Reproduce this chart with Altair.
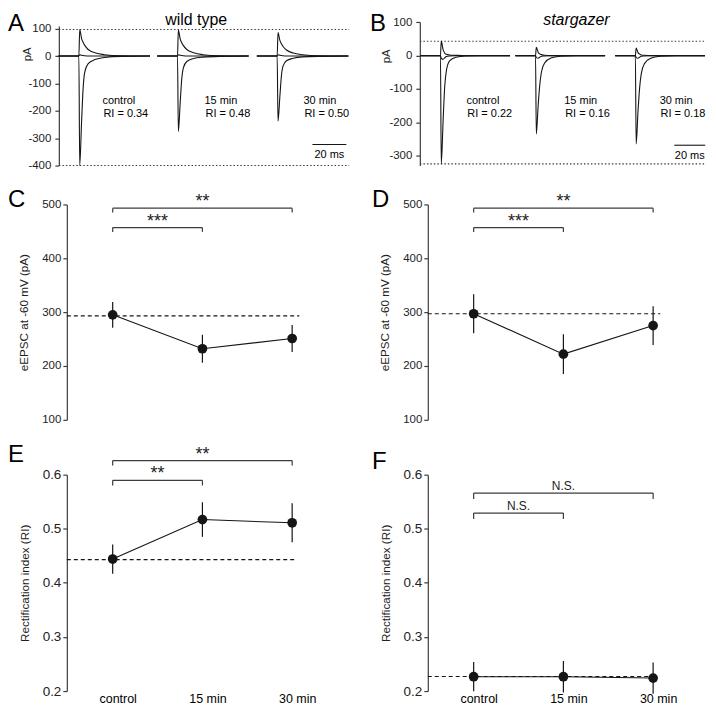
import altair as alt
import pandas as pd

FONT = "Liberation Sans"
INK = "#151515"
GREY = "#3c3c3c"

# ---------------- shared categories ----------------
conditions = ["control", "15 min", "30 min"]
cond_x = [0, 1, 2]
cond_domain = [-0.511, 2.267]

# ---------------- panel A : wild type traces (ms, pA) ----------------
a_onsets = [7.1, 65.3, 124.1]
a_t_rel = [-12, 0, 0.5, 1.6, 2.5, 3.5, 5.5, 9.5, 15, 25, 42]
a_neg = [
    [0, 0, -400, -240, -119, -58, -28, -13, -5, -1, 0],
    [0, 0, -275, -168, -84, -42, -20, -9, -4, -1, 0],
    [0, 0, -238, -147, -73, -36, -17, -8, -3, -1, 0],
]
a_pos = [
    [0, 0, 97, 64, 50, 39, 24, 12, 5, 1, 0],
    [0, 0, 95, 62, 49, 38, 24, 12, 5, 1, 0],
    [0, 0, 86, 57, 45, 35, 22, 11, 5, 1, 0],
]
a_zero = [
    [0, 0, 5, 3, 2, 1, 0, 0, 0, 0, 0],
    [0, 0, 5, 3, 2, 1, 0, 0, 0, 0, 0],
    [0, 0, 5, 3, 2, 1, 0, 0, 0, 0, 0],
]
a_ticks = [-400, -300, -200, -100, 0, 100]
a_dotted = [97, -400]
a_dotted_span = [-4.7, 166.5]
a_bar = [144.9, 164.9]
a_bar_level = -323
a_bar_label_level = -363
a_ann_t = [21.0, 81.2, 139.6]
a_ann_levels = [-163, -212]
a_ri = ["0.34", "0.48", "0.50"]

# ---------------- panel B : stargazer traces ----------------
b_onsets = [8.2, 69.7, 134.3]
b_t_rel = [-13, 0, 0.5, 1.7, 2.7, 3.8, 5.9, 10, 16, 26, 45]
b_neg = [
    [0, 0, -325, -196, -96, -46, -16, -5, -1, 0, 0],
    [0, 0, -235, -150, -90, -50, -22, -7, -2, 0, 0],
    [0, 0, -265, -168, -100, -55, -24, -8, -2, 0, 0],
]
b_pos = [
    [0, 0, 44, 18, 8, 4, 2, 1, 0, 0, 0],
    [0, 0, 25, 10, 5, 3, 1, 0, 0, 0, 0],
    [0, 0, 23, 9, 5, 2, 1, 0, 0, 0, 0],
]
b_zero = [
    [0, 0, -8, -11, -7, -3, -1, 0, 0, 0, 0],
    [0, 0, -6, -8, -5, -2, -1, 0, 0, 0, 0],
    [0, 0, -6, -8, -5, -2, -1, 0, 0, 0, 0],
]
b_ticks = [-300, -200, -100, 0, 100]
b_dotted = [43, -325]
b_dotted_span = [-5.1, 180]
b_bar = [159.5, 179.5]
b_bar_level = -269
b_bar_label_level = -302
b_ann_t = [25.0, 88.3, 150.0]
b_ann_levels = [-135, -175]
b_ri = ["0.22", "0.16", "0.18"]

# ---------------- panels C-F : summary statistics ----------------
c_mean = [295, 232, 251]
c_sem = [24, 26, 25]
c_base = 293
d_mean = [297, 222, 275]
d_sem = [36, 37, 36]
d_base = 297
e_mean = [0.444, 0.517, 0.511]
e_sem = [0.027, 0.032, 0.036]
e_base = 0.443
f_mean = [0.2265, 0.2265, 0.224]
f_sem = [0.027, 0.029, 0.029]
f_base = 0.227

epsc_ticks = [100, 200, 300, 400, 500]
ri_ticks = [0.2, 0.3, 0.4, 0.5, 0.6]

# brackets: (from, to, top level, foot level, label)
c_brackets = [(0, 1, 457, 449, "***"), (0, 2, 493, 485, "**")]
d_brackets = [(0, 1, 457, 449, "***"), (0, 2, 493, 485, "**")]
e_brackets = [(0, 1, 0.5895, 0.580, "**"), (0, 2, 0.626, 0.617, "**")]
f_brackets = [(0, 1, 0.529, 0.518, "N.S."), (0, 2, 0.566, 0.555, "N.S.")]


def label_layer(text, x, y, size=24, italic=False, align="left"):
    return alt.Chart(pd.DataFrame({"s": [text]})).mark_text(
        font=FONT, fontSize=size, align=align, baseline="top", color="#000000",
        fontStyle="italic" if italic else "normal",
    ).encode(x=alt.value(x), y=alt.value(y), text="s:N")


def trace_panel(onsets, t_rel, negs, poss, zeros, xdom, width, ydom, yrange, ticks,
                dotted, span, bar, bar_level, bar_label_level, ann_t, ann_levels, ri,
                title, italic, title_x, letter, letter_x, pa_x, pa_y):
    rows = []
    for i, onset in enumerate(onsets):
        for kind, series in (("neg", negs), ("pos", poss), ("zero", zeros)):
            for t, v in zip(t_rel, series[i]):
                rows.append({"t": onset + t, "v": v, "trace": f"{i}{kind}"})
    df = pd.DataFrame(rows)
    xs = alt.Scale(domain=xdom, nice=False, zero=False)
    if yrange is not None:
        ys = alt.Scale(domain=ydom, nice=False, zero=False, range=yrange)
    else:
        ys = alt.Scale(domain=ydom, nice=False, zero=False)
    yaxis = alt.Axis(values=ticks, labelExpr="'' + datum.value", offset=8, title="pA",
                     titleX=pa_x, titleY=pa_y, titleAngle=270, titleAlign="center",
                     titleBaseline="bottom", tickSize=4, labelPadding=4, grid=False,
                     labelFontSize=11.5, titleFontSize=11.5, titleFontWeight="normal")

    def X(field):
        return alt.X(field, scale=xs, axis=None)

    def Y(field):
        return alt.Y(field, scale=ys, axis=yaxis)

    lines = alt.Chart(df).mark_line(color=INK, strokeWidth=1.1, interpolate="monotone").encode(
        x=X("t:Q"), y=Y("v:Q"), detail="trace:N",
    )
    dot_df = pd.DataFrame({"lvl": dotted, "x1": [span[0]] * len(dotted), "x2": [span[1]] * len(dotted)})
    dots = alt.Chart(dot_df).mark_rule(color=GREY, strokeWidth=1.1, strokeDash=[1.5, 2]).encode(
        x=X("x1:Q"), x2="x2:Q", y=Y("lvl:Q"),
    )
    bar_df = pd.DataFrame({"x1": [bar[0]], "x2": [bar[1]], "lvl": [bar_level],
                           "xm": [(bar[0] + bar[1]) / 2], "lab": ["20 ms"], "ll": [bar_label_level]})
    bar_rule = alt.Chart(bar_df).mark_rule(color=INK, strokeWidth=1.1).encode(
        x=X("x1:Q"), x2="x2:Q", y=Y("lvl:Q"),
    )
    bar_text = alt.Chart(bar_df).mark_text(font=FONT, fontSize=11, color="#000", baseline="middle").encode(
        x=X("xm:Q"), y=Y("ll:Q"), text="lab:N",
    )
    ann_rows = []
    for c, t, r in zip(conditions, ann_t, ri):
        ann_rows.append({"t": t, "v": ann_levels[0], "s": c})
        ann_rows.append({"t": t + 0.6, "v": ann_levels[1], "s": f"RI = {r}"})
    ann = alt.Chart(pd.DataFrame(ann_rows)).mark_text(
        font=FONT, fontSize=11, color="#000", align="left", baseline="middle"
    ).encode(x=X("t:Q"), y=Y("v:Q"), text="s:N")

    return alt.layer(
        dots, lines, bar_rule, bar_text, ann,
        label_layer(letter, letter_x, -10),
        label_layer(title, title_x, -10, size=16, italic=italic, align="center"),
    ).properties(width=width, height=144)


def stat_panel(mean, sem, base, base_end, brackets, ydom, ticks, yfmt, ytitle, height,
               yrange, show_x, letter, letter_x, letter_y, tick_size):
    df = pd.DataFrame({
        "x": cond_x, "m": mean,
        "lo": [m - s for m, s in zip(mean, sem)],
        "hi": [m + s for m, s in zip(mean, sem)],
    })
    xs = alt.Scale(domain=cond_domain, nice=False, zero=False)
    if yrange is not None:
        ys = alt.Scale(domain=ydom, nice=False, zero=False, range=yrange)
    else:
        ys = alt.Scale(domain=ydom, nice=False, zero=False)
    if show_x:
        lab_expr = "[" + ",".join(f"'{c}'" for c in conditions) + "][datum.value]"
        xaxis = alt.Axis(values=cond_x, labelExpr=lab_expr, domain=False, ticks=False, tickSize=0,
                         grid=False, labelFontSize=12.5, labelPadding=1, labelOffset=5,
                         title=None, labelColor="#000")
    else:
        xaxis = None
    yaxis = alt.Axis(values=ticks, format=yfmt, title=ytitle, grid=False, tickSize=4,
                     labelPadding=2, titlePadding=12, labelFontSize=tick_size,
                     titleFontSize=11.7, titleFontWeight="normal")

    def X(field):
        return alt.X(field, scale=xs, axis=xaxis)

    def Y(field):
        return alt.Y(field, scale=ys, axis=yaxis)

    base_df = pd.DataFrame({"x1": [cond_domain[0]], "x2": [base_end], "b": [base]})
    base_rule = alt.Chart(base_df).mark_rule(color=INK, strokeWidth=1.1, strokeDash=[4, 3]).encode(
        x=X("x1:Q"), x2="x2:Q", y=Y("b:Q"),
    )
    line = alt.Chart(df).mark_line(color=INK, strokeWidth=1.1).encode(x=X("x:Q"), y=Y("m:Q"))
    err = alt.Chart(df).mark_rule(color=INK, strokeWidth=1.2).encode(x=X("x:Q"), y=Y("lo:Q"), y2="hi:Q")
    pts = alt.Chart(df).mark_circle(color=INK, opacity=1, size=95).encode(x=X("x:Q"), y=Y("m:Q"))
    h_rows, v_rows, t_rows = [], [], []
    for a, b, top, foot, lab in brackets:
        h_rows.append({"x1": a, "x2": b, "y": top})
        v_rows.append({"x": a, "y1": foot, "y2": top})
        v_rows.append({"x": b, "y1": foot, "y2": top})
        t_rows.append({"x": (a + b) / 2, "y": top, "s": lab})
    br_h = alt.Chart(pd.DataFrame(h_rows)).mark_rule(color=GREY, strokeWidth=1.2).encode(
        x=X("x1:Q"), x2="x2:Q", y=Y("y:Q"),
    )
    br_v = alt.Chart(pd.DataFrame(v_rows)).mark_rule(color=GREY, strokeWidth=1.2).encode(
        x=X("x:Q"), y=Y("y1:Q"), y2="y2:Q",
    )
    is_ns = brackets[0][4] == "N.S."
    br_t = alt.Chart(pd.DataFrame(t_rows)).mark_text(
        font=FONT, fontSize=12 if is_ns else 18, color="#222", baseline="alphabetic",
        dy=-3 if is_ns else -1,
    ).encode(x=X("x:Q"), y=Y("y:Q"), text="s:N")

    return alt.layer(
        base_rule, line, err, pts, br_h, br_v, br_t,
        label_layer(letter, letter_x, letter_y),
    ).properties(width=250, height=height)


panel_a = trace_panel(a_onsets, a_t_rel, a_neg, a_pos, a_zero, [0, 166.5], 283,
                      [-400, 110], [144, 4], a_ticks, a_dotted, a_dotted_span, a_bar,
                      a_bar_level, a_bar_label_level, a_ann_t, a_ann_levels, a_ri,
                      "wild type", False, 129.7, "A", -59, -26, 32)
panel_b = trace_panel(b_onsets, b_t_rel, b_neg, b_pos, b_zero, [0, 180], 279,
                      [-330, 101], None, b_ticks, b_dotted, b_dotted_span, b_bar,
                      b_bar_level, b_bar_label_level, b_ann_t, b_ann_levels, b_ri,
                      "stargazer", True, 149, "B", -58, -28, 34)

panel_c = stat_panel(c_mean, c_sem, c_base, 2.08, c_brackets, [100, 500], epsc_ticks, "d",
                     "eEPSC at -60 mV (pA)", 232, [216, 0], False, "C", -59, -16, 11.5)
panel_d = stat_panel(d_mean, d_sem, d_base, 2.08, d_brackets, [100, 500], epsc_ticks, "d",
                     "eEPSC at -60 mV (pA)", 232, [216, 0], False, "D", -56, -16, 11.5)
panel_e = stat_panel(e_mean, e_sem, e_base, 2.03, e_brackets, [0.2, 0.6], ri_ticks, ".1f",
                     "Rectification index (RI)", 217, None, True, "E", -59, -32, 13.5)
panel_f = stat_panel(f_mean, f_sem, f_base, 2.03, f_brackets, [0.2, 0.6], ri_ticks, ".1f",
                     "Rectification index (RI)", 217, None, True, "F", -56, -25, 13.5)

chart = alt.concat(
    panel_a, panel_b, panel_c, panel_d, panel_e, panel_f,
    columns=2, spacing={"row": 39, "column": 79}, bounds="flush",
).properties(
    padding={"top": 3, "left": 0, "right": 0, "bottom": 0}
).configure(font=FONT).configure_view(stroke=None).configure_axis(
    domainColor=GREY, tickColor=GREY, labelColor="#222", titleColor="#222",
    labelFont=FONT, titleFont=FONT, domainWidth=1.2, tickWidth=1.2,
)

chart.save("out.html", embed_options={"renderer": "svg", "actions": False})
